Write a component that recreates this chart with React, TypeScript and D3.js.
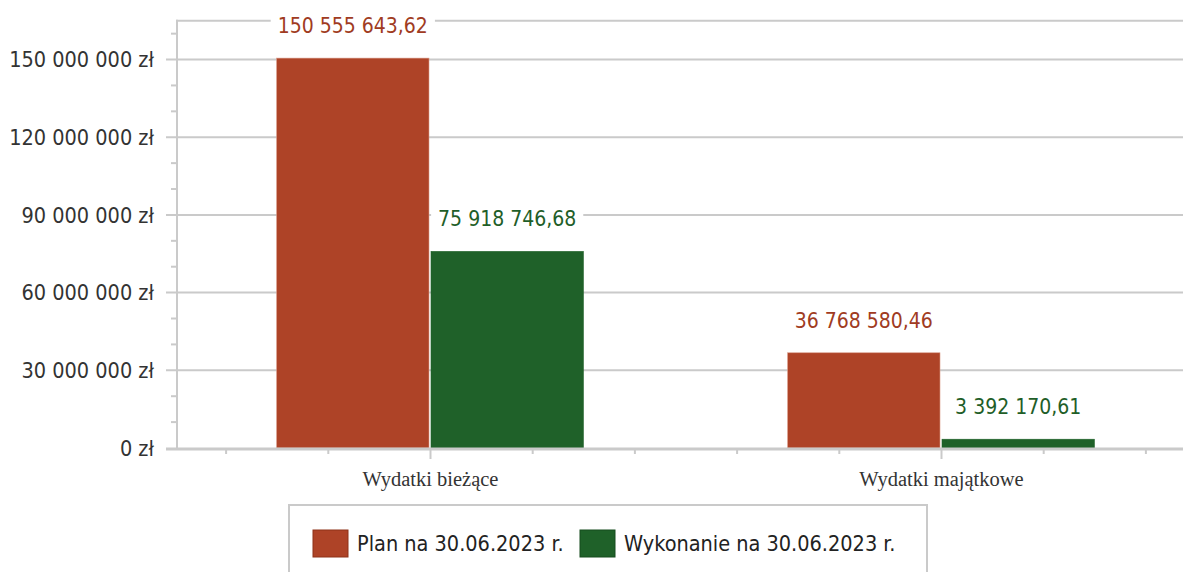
import React, { useLayoutEffect, useRef, useState } from 'react';
import * as d3 from 'd3';

// chart data
const categories = ['Wydatki bieżące', 'Wydatki majątkowe'];
const seriesNames = ['Plan na 30.06.2023 r.', 'Wykonanie na 30.06.2023 r.'];
const planValues = [150555643.62, 36768580.46];
const executionValues = [75918746.68, 3392170.61];
const yTicks = [0, 30000000, 60000000, 90000000, 120000000, 150000000];
const yMax = 165000000;

const colors = ['#AE4327', '#1F6129'];
const labelColors = ['#A03B22', '#1F5E28'];
const swatchBorders = ['#8E3219', '#174D1F'];

const W = 1183;
const H = 572;
const margin = { top: 20.7, left: 176, right: 1198, bottom: 448 };
const sans = "'DejaVu Sans Condensed', 'DejaVu Sans', sans-serif";
const serif = "'Liberation Serif', 'Times New Roman', serif";
const grid = '#CACACA';

const pl = d3.formatLocale({
  decimal: ',',
  thousands: ' ',
  grouping: [3],
  currency: ['', ' zł'],
});
const fmtValue = pl.format(',.2f');
const fmtTick = pl.format('$,.0f');

// white box behind a value label, measured after first paint
const ValueLabel = ({ x, y, text, color }: { x: number; y: number; text: string; color: string }) => {
  const ref = useRef<SVGTextElement>(null);
  const [box, setBox] = useState<{ x: number; y: number; w: number; h: number } | null>(null);
  useLayoutEffect(() => {
    if (ref.current) {
      const b = ref.current.getBBox();
      setBox({ x: b.x, y: b.y, w: b.width, h: b.height });
    }
  }, [x, y, text]);
  return (
    <g>
      {box && <rect x={box.x - 7} y={box.y} width={box.w + 14} height={box.h} fill="#fff" />}
      <text
        ref={ref}
        x={x}
        y={y}
        textAnchor="middle"
        fill={color}
        style={{ fontFamily: sans, fontSize: 21, fontStretch: 'condensed' }}
      >
        {text}
      </text>
    </g>
  );
};

const App = () => {
  const x0 = d3.scaleBand<string>().domain(categories).range([margin.left - 1, margin.right - 1]);
  const x1 = d3
    .scaleBand<string>()
    .domain(seriesNames)
    .range([0, x0.bandwidth()])
    .paddingOuter(0.655);
  const y = d3.scaleLinear().domain([0, yMax]).range([margin.bottom, margin.top]);

  const minorY = d3.range(10000000, yMax, 10000000).filter((v) => v % 30000000 !== 0);
  const step = x0.bandwidth() / 5;
  const minorX = d3.range(10).map((i) => (x0(categories[0]) ?? 0) + step / 2 + i * step);
  const series = [planValues, executionValues];

  return (
    <svg width={W} height={H} style={{ position: 'absolute', left: 0, top: 0, background: '#fff' }}>
      {/* gridlines */}
      {yTicks.slice(1).map((t) => (
        <line key={t} x1={margin.left - 10} x2={W} y1={y(t)} y2={y(t)} stroke={grid} strokeWidth={2} />
      ))}
      <line x1={margin.left} x2={W} y1={y(yMax)} y2={y(yMax)} stroke={grid} strokeWidth={2} />
      {minorY.map((t) => (
        <line key={t} x1={margin.left - 5} x2={margin.left} y1={y(t)} y2={y(t)} stroke={grid} strokeWidth={2} />
      ))}
      {/* y axis */}
      <line x1={margin.left + 1} x2={margin.left + 1} y1={y(yMax) - 1} y2={y(0)} stroke={grid} strokeWidth={2} />
      {yTicks.map((t) => (
        <text
          key={t}
          x={154}
          y={y(t)}
          dy="0.36em"
          textAnchor="end"
          fill="#333"
          style={{ fontFamily: sans, fontSize: 21.5, fontStretch: 'condensed' }}
        >
          {fmtTick(t)}
        </text>
      ))}
      {/* bars */}
      {categories.map((c, ci) =>
        seriesNames.map((s, si) => {
          const v = series[si][ci];
          const bx = (x0(c) ?? 0) + (x1(s) ?? 0);
          return (
            <rect
              key={c + s}
              x={bx + 0.5}
              y={y(v)}
              width={x1.bandwidth() - 2}
              height={y(0) - y(v)}
              fill={colors[si]}
              stroke={si === 0 ? '#D99A88' : colors[si]}
              strokeWidth={0.6}
            />
          );
        })
      )}
      {/* x axis */}
      <line x1={margin.left - 10} x2={W} y1={y(0) + 1} y2={y(0) + 1} stroke={grid} strokeWidth={3} />
      {minorX.map((mx, i) => (
        <line
          key={i}
          x1={mx}
          x2={mx}
          y1={y(0) + 2}
          y2={y(0) + (i % 5 === 2 ? 11 : 6)}
          stroke={grid}
          strokeWidth={2}
        />
      ))}
      {categories.map((c) => (
        <text
          key={c}
          x={(x0(c) ?? 0) + x0.bandwidth() / 2}
          y={486}
          textAnchor="middle"
          fill="#333"
          style={{ fontFamily: serif, fontSize: 20.5 }}
        >
          {c}
        </text>
      ))}
      {/* value labels */}
      {categories.map((c, ci) =>
        seriesNames.map((s, si) => {
          const v = series[si][ci];
          const cx = (x0(c) ?? 0) + (x1(s) ?? 0) + x1.bandwidth() / 2 - 0.5;
          return <ValueLabel key={'l' + c + s} x={cx} y={y(v) - 25} text={fmtValue(v)} color={labelColors[si]} />;
        })
      )}
      {/* legend */}
      <rect x={289} y={505} width={638} height={90} fill="#fff" stroke={grid} strokeWidth={2} />
      {seriesNames.map((s, si) => {
        const lx = si === 0 ? 313 : 580;
        return (
          <g key={s}>
            <rect x={lx} y={530} width={35} height={27} fill={colors[si]} stroke={swatchBorders[si]} strokeWidth={1} />
            <text
              x={lx + 44}
              y={551}
              fill="#222"
              style={{ fontFamily: sans, fontSize: 21.5, fontStretch: 'condensed' }}
            >
              {s}
            </text>
          </g>
        );
      })}
    </svg>
  );
};

export default App;
